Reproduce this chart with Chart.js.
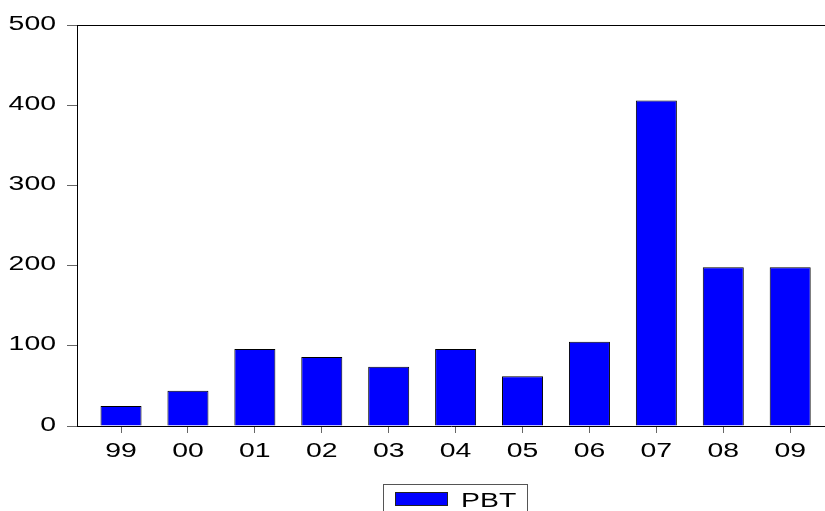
<!DOCTYPE html>
<html>
<head>
<meta charset="utf-8">
<script src="https://cdn.jsdelivr.net/npm/chart.js@4"></script>
<style>
    body { margin: 0; background: #fff; }
    #wrap { width: 825px; height: 511px; }
</style>
</head>
<body>
<div id="wrap"><canvas id="pbtChart" width="825" height="511"></canvas></div>
<script>
    // data
    const years = ['99', '00', '01', '02', '03', '04', '05', '06', '07', '08', '09'];
    const pbt = [25, 44, 96, 86, 74, 96, 62, 105, 406, 198, 198];
    const yTicks = [0, 100, 200, 300, 400, 500];

    const FONT = '20px Arial, "Liberation Sans", sans-serif';
    const STRETCH = 1.42; // EViews draws its text wide

    Chart.defaults.font.family = 'Arial, "Liberation Sans", sans-serif';
    Chart.defaults.font.size = 20;
    Chart.defaults.color = '#000';

    function wideText(ctx, text, x, y, align) {
        ctx.save();
        ctx.translate(x, y);
        ctx.scale(STRETCH, 1);
        ctx.textAlign = align;
        ctx.textBaseline = 'alphabetic';
        ctx.fillText(text, 0, 0);
        ctx.restore();
    }

    // tick labels, top frame line and the boxed legend
    const framePlugin = {
        id: 'frame',
        afterDraw(chart) {
            const ctx = chart.ctx;
            const area = chart.chartArea;
            const xs = chart.scales.x;
            const ys = chart.scales.y;
            ctx.save();
            ctx.strokeStyle = '#000';
            ctx.lineWidth = 1;
            ctx.beginPath();
            ctx.moveTo(area.left, area.top + 0.5);
            ctx.lineTo(area.right, area.top + 0.5);
            ctx.stroke();

            ctx.fillStyle = '#000';
            ctx.font = FONT;
            ys.ticks.forEach(t => {
                wideText(ctx, String(t.value), area.left - 21, ys.getPixelForValue(t.value) + 4.5, 'right');
            });
            xs.ticks.forEach(t => {
                wideText(ctx, years[t.value], xs.getPixelForValue(t.value), area.bottom + 30.5, 'center');
            });

            // legend
            const ds = chart.data.datasets[0];
            ctx.strokeStyle = '#555';
            ctx.strokeRect(383.5, 484.5, 144, 40);
            ctx.fillStyle = ds.backgroundColor;
            ctx.fillRect(395, 492, 53, 14);
            ctx.strokeStyle = '#222';
            ctx.strokeRect(395.5, 492.5, 52, 13);
            ctx.fillStyle = '#000';
            wideText(ctx, ds.label, 461, 507, 'left');
            ctx.restore();
        }
    };

    const ctx = document.getElementById('pbtChart').getContext('2d');
    new Chart(ctx, {
        type: 'bar',
        data: {
            datasets: [{
                label: 'PBT',
                data: pbt.map((v, i) => ({ x: i, y: v })),
                backgroundColor: '#0000FF',
                borderColor: '#000',
                borderWidth: 1,
                barPercentage: 0.613,
                categoryPercentage: 1
            }]
        },
        options: {
            responsive: false,
            animation: false,
            layout: { padding: { top: 25, bottom: 27, right: 0, left: 0 } },
            plugins: {
                legend: { display: false },
                tooltip: { enabled: false }
            },
            scales: {
                x: {
                    type: 'linear',
                    offset: false,
                    min: -0.658,
                    max: 10.52,
                    afterBuildTicks: axis => {
                        axis.ticks = years.map((_, i) => ({ value: i }));
                    },
                    afterFit: axis => { axis.height = 58; },
                    grid: {
                        offset: false,
                        drawOnChartArea: false,
                        drawTicks: true,
                        tickLength: 7,
                        tickColor: '#666'
                    },
                    border: { color: '#000', width: 1 },
                    ticks: { display: false }
                },
                y: {
                    min: 0,
                    max: 500,
                    afterBuildTicks: axis => {
                        axis.ticks = yTicks.map(v => ({ value: v }));
                    },
                    afterFit: axis => { axis.width = 77; },
                    grid: {
                        drawOnChartArea: false,
                        drawTicks: true,
                        tickLength: 10,
                        tickColor: '#666'
                    },
                    border: { color: '#000', width: 1 },
                    ticks: { display: false }
                }
            }
        },
        plugins: [framePlugin]
    });
</script>
</body>
</html>
